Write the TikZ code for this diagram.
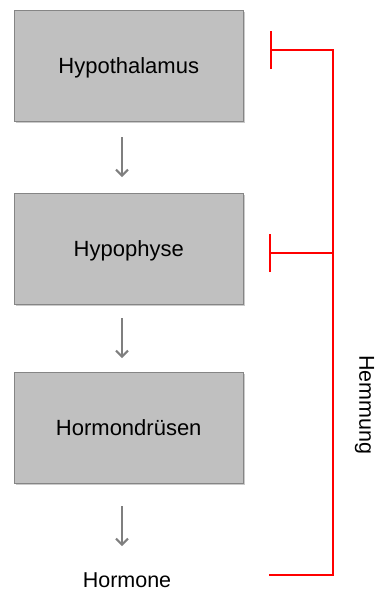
\documentclass[tikz,border=0pt]{standalone}
\usepackage{fontspec}
\setmainfont{Liberation Sans}
\usetikzlibrary{arrows.meta,shadows}
\definecolor{boxfill}{HTML}{C0C0C0}
\definecolor{boxline}{HTML}{858585}
\definecolor{arrowgray}{HTML}{7F7F7F}
\tikzset{
  organ/.style={draw=boxline, line width=1.5pt, fill=boxfill, minimum width=229pt, minimum height=111pt,
    inner sep=0pt, text height=15.5pt, text depth=0pt, font=\fontsize{22}{24}\selectfont, anchor=north west,
    drop shadow={shadow xshift=1.5pt, shadow yshift=-2pt, opacity=0.35, fill=black!60}},
  flow/.style={draw=arrowgray, line width=2pt, -{Straight Barb[length=6pt,width=12pt,line width=2pt]}},
  inhib/.style={draw=red, line width=2.3pt},
  bartip/.style={-{Bar[width=38pt,line width=2.3pt]}},
  lbl/.style={font=\fontsize{21.5}{24}\selectfont, inner sep=0pt}
}
\begin{document}
\begin{tikzpicture}[x=1pt,y=-1pt]
\useasboundingbox (0,0) rectangle (376,592);
\node[organ] (hyp) at (13.5,9.5) {Hypothalamus};
\node[organ] (pit) at (13.5,192.5) {Hypophyse};
\node[organ] (gland) at (13.5,371.5) {Hormondrüsen};
\node[lbl] (horm) at (127,580) {Hormone};
\node[lbl, rotate=-90] (hemm) at (364.5,405) {Hemmung};
\coordinate (a1s) at (122,137);
\coordinate (a1e) at (122,177);
\coordinate (a2s) at (122,318);
\coordinate (a2e) at (122,358);
\coordinate (a3s) at (122,506);
\coordinate (a3e) at (122,546);
\draw[flow] (a1s) -- (a1e);
\draw[flow] (a2s) -- (a2e);
\draw[flow] (a3s) -- (a3e);
\coordinate (bl) at (269,575);
\coordinate (br) at (333,575);
\coordinate (tr) at (333,50);
\coordinate (t1) at (270,50);
\coordinate (mr) at (333,253);
\coordinate (t2) at (269,253);
\draw[inhib, bartip] (bl) -- (br) -- (tr) -- (t1);
\draw[inhib, bartip] (mr) -- (t2);
\end{tikzpicture}
\end{document}
